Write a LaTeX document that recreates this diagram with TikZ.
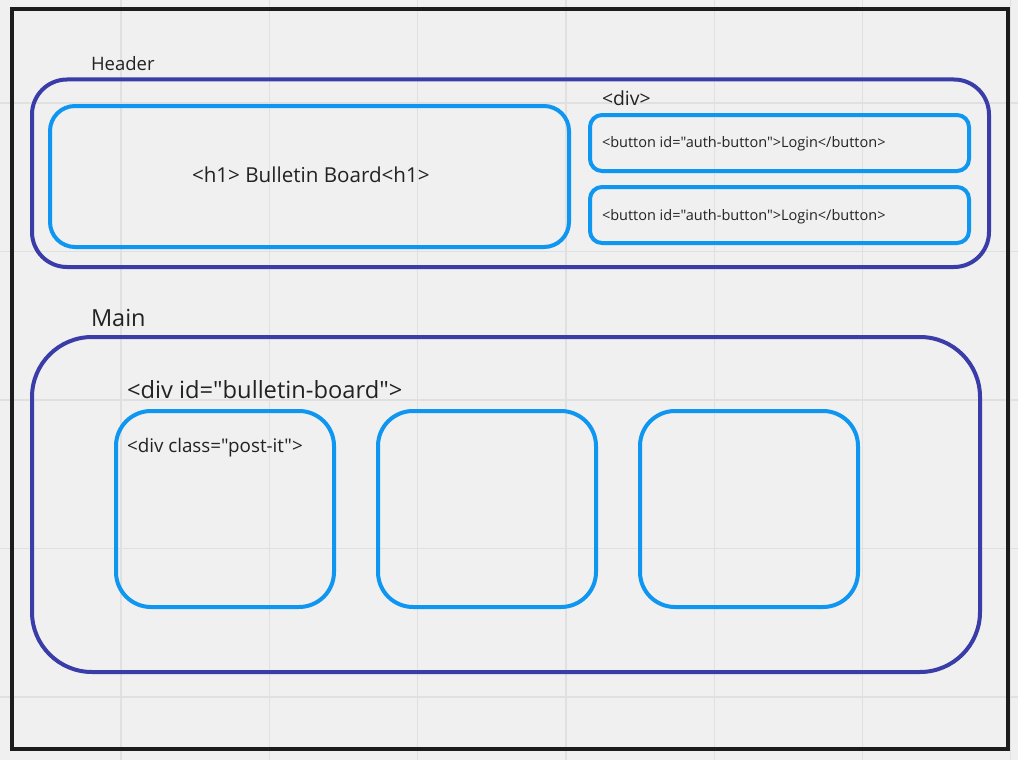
\documentclass[tikz,border=0pt]{standalone}
\usepackage{fontspec}
\setmainfont{Open Sans}[Ligatures=TeXOff]
\definecolor{bgc}{HTML}{F0F0F0}
\definecolor{gridc}{HTML}{E0E0E0}
\definecolor{framec}{HTML}{1C1C1C}
\definecolor{navy}{HTML}{3A3DA8}
\definecolor{sky}{HTML}{0E96F0}
\definecolor{txt}{HTML}{222222}
\tikzset{
  box/.style={draw, rectangle, line width=4pt, inner sep=0pt, outer sep=0pt},
  outerbox/.style={box, draw=navy},
  innerbox/.style={box, draw=sky},
  lbl/.style={anchor=base west, inner sep=0pt, outer sep=0pt, text=txt},
}
\begin{document}
\begin{tikzpicture}[x=1pt,y=-1pt]
\fill[bgc] (0,0) rectangle (1018,760);
\useasboundingbox (0,0) rectangle (1018,760);
% grid
\foreach \gx in {121,269.3,417.6,565.9,714.2,862.5,1010.8}
  \draw[gridc, line width=1.2pt] (\gx,0) -- (\gx,760);
\foreach \gy in {103,251.5,400,548.5,697}
  \draw[gridc, line width=1.2pt] (0,\gy) -- (1018,\gy);
% frame
\node[box, draw=framec, minimum width=996pt, minimum height=739.5pt] (frame) at (510,379.25) {};
% header
\node[outerbox, rounded corners=35pt, minimum width=957pt, minimum height=187.5pt] (header) at (510.5,173.25) {};
\node[lbl, font=\fontsize{18.5}{20}\selectfont] (headerlbl) at (91,70.5) {Header};
\node[innerbox, rounded corners=25pt, minimum width=519pt, minimum height=141pt] (h1) at (309.5,176.5) {};
\node[lbl, font=\fontsize{20.6}{24}\selectfont] (h1lbl) at (192,182) {<h1> Bulletin Board<h1>};
\node[lbl, font=\fontsize{19.4}{22}\selectfont] (divlbl) at (602,106) {<div>};
\node[innerbox, rounded corners=12pt, minimum width=379pt, minimum height=56pt] (btn1) at (779.5,143) {};
\node[innerbox, rounded corners=12pt, minimum width=379pt, minimum height=56pt] (btn2) at (779.5,215) {};
\node[lbl, font=\fontsize{14.5}{16}\selectfont] (btn1lbl) at (602,147) {<button id="auth-button">Login</button>};
\node[lbl, font=\fontsize{14.5}{16}\selectfont] (btn2lbl) at (602,220) {<button id="auth-button">Login</button>};
% main
\node[lbl, font=\fontsize{23.5}{26}\selectfont] (mainlbl) at (91,326) {Main};
\node[outerbox, rounded corners=60pt, minimum width=948pt, minimum height=335pt] (main) at (506,504.5) {};
\node[lbl, font=\fontsize{23.7}{26}\selectfont] (boardlbl) at (127,398) {<div id="bulletin-board">};
\node[innerbox, rounded corners=35pt, minimum width=218pt, minimum height=196pt] (post1) at (225,509) {};
\node[innerbox, rounded corners=35pt, minimum width=218pt, minimum height=196pt] (post2) at (487,509) {};
\node[innerbox, rounded corners=35pt, minimum width=218pt, minimum height=196pt] (post3) at (749,509) {};
\node[lbl, font=\fontsize{18.8}{21}\selectfont] (postlbl) at (127,452) {<div class="post-it">};
\end{tikzpicture}
\end{document}
